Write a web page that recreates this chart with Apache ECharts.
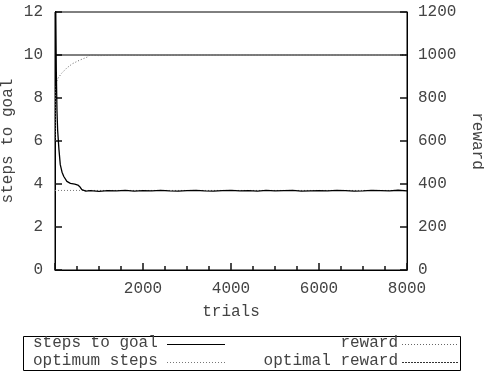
<!DOCTYPE html>
<html><head><meta charset="utf-8">
<script src="https://cdn.jsdelivr.net/npm/echarts@6/dist/echarts.min.js"></script>
<style>html,body{margin:0;padding:0;background:#fff}#c{width:484px;height:372px}</style>
</head><body><div id="c"></div>
<script>
// ---- data ----
var stepTrials = [0, 15, 30, 45, 60, 90, 120, 160, 200, 270, 350, 450, 520, 570, 610, 650, 700, 800, 1000, 1200, 1400, 1600, 1800, 2000, 2200, 2400, 2600, 2800, 3000, 3200, 3400, 3600, 3800, 4000, 4200, 4400, 4600, 4800, 5000, 5200, 5400, 5600, 5800, 6000, 6200, 6400, 6600, 6800, 7000, 7200, 7400, 7600, 7800, 8000];
var stepValues = [16, 12.6, 9.2, 7.4, 6.5, 5.6, 4.9, 4.55, 4.35, 4.12, 4.03, 3.99, 3.95, 3.86, 3.74, 3.66, 3.67, 3.69, 3.66, 3.69, 3.68, 3.7, 3.67, 3.69, 3.68, 3.7, 3.68, 3.67, 3.69, 3.7, 3.68, 3.67, 3.69, 3.7, 3.68, 3.69, 3.67, 3.7, 3.68, 3.69, 3.7, 3.67, 3.68, 3.69, 3.68, 3.7, 3.69, 3.67, 3.68, 3.7, 3.69, 3.68, 3.71, 3.68];
var rewardTrials = [0, 10, 25, 50, 80, 150, 270, 400, 570, 730, 800, 1000, 1500, 2000, 3000, 4000, 5000, 6000, 7000, 8000];
var rewardValues = [600, 800, 860, 885, 895, 915, 940, 960, 977, 990, 1000, 997, 1000, 998, 1000, 1000, 1000, 1000, 1000, 1000];
var optimumSteps = 3.7;
var optimalReward = 1000;
var xTicks = [0, 8000, 2000];
var yLeftTicks = [0, 12, 2];
var yRightTicks = [0, 1200, 200];

function pairs(xs, ys) { return xs.map(function (x, i) { return [x, ys[i]]; }); }

var FONT = 'Liberation Mono';
var TXT = '#444';
function lbl(margin, hideZero) {
  return { fontFamily: FONT, fontSize: 16, color: TXT, margin: margin,
    formatter: function (v) { return (hideZero && v === 0) ? '' : String(v); } };
}
function nameStyle() { return { fontFamily: FONT, fontSize: 16, color: TXT }; }
function tick(len) { return { show: true, inside: true, length: len, lineStyle: { color: '#111', width: 1.5 } }; }

var chart = echarts.init(document.getElementById('c'));
chart.setOption({
  animation: false,
  grid: { left: 55, right: 77, top: 12, bottom: 102, outerBoundsMode: 'none', show: true, borderColor: '#000' },
  xAxis: {
    type: 'value', min: xTicks[0], max: xTicks[1], interval: xTicks[2],
    name: 'trials', nameLocation: 'middle', nameGap: 34, nameMoveOverlap: false, nameTextStyle: nameStyle(),
    axisLine: { show: true, lineStyle: { color: '#000', width: 1 } },
    axisTick: tick(7),
    minorTick: { show: true, splitNumber: 4, length: 4, lineStyle: { color: '#111', width: 1.5 } },
    splitLine: { show: false },
    axisLabel: lbl(11, true)
  },
  yAxis: [
    {
      type: 'value', min: yLeftTicks[0], max: yLeftTicks[1], interval: yLeftTicks[2],
      name: 'steps to goal', nameLocation: 'middle', nameGap: 39, nameMoveOverlap: false, nameTextStyle: nameStyle(),
      axisLine: { show: true, lineStyle: { color: '#000', width: 1 } },
      axisTick: tick(7),
      splitLine: { show: false },
      axisLabel: lbl(12, false)
    },
    {
      type: 'value', min: yRightTicks[0], max: yRightTicks[1], interval: yRightTicks[2], position: 'right',
      name: 'reward', nameLocation: 'middle', nameGap: 62, nameRotate: -90, nameMoveOverlap: false, nameTextStyle: nameStyle(),
      axisLine: { show: true, lineStyle: { color: '#000', width: 1 } },
      axisTick: tick(7),
      splitLine: { show: false },
      axisLabel: lbl(11, false)
    }
  ],
  series: [
    { name: 'optimum steps', type: 'line', showSymbol: false, yAxisIndex: 0,
      data: [[xTicks[0], optimumSteps], [xTicks[1], optimumSteps]],
      lineStyle: { color: '#777', width: 1, type: [1, 2] } },
    { name: 'optimal reward', type: 'line', showSymbol: false, yAxisIndex: 1,
      data: [[xTicks[0], optimalReward], [xTicks[1], optimalReward]],
      lineStyle: { color: '#000', width: 1, type: 'solid' } },
    { name: 'reward', type: 'line', showSymbol: false, yAxisIndex: 1,
      data: pairs(rewardTrials, rewardValues),
      lineStyle: { color: '#666', width: 1, type: [1, 2] } },
    { name: 'steps to goal', type: 'line', showSymbol: false, yAxisIndex: 0,
      data: pairs(stepTrials, stepValues),
      lineStyle: { color: '#000', width: 1.3 } }
  ],
  graphic: [
    { type: 'rect', shape: { x: 23.5, y: 336.5, width: 437, height: 34 }, style: { fill: 'none', stroke: '#000', lineWidth: 1 } },
    { type: 'text', left: 33, top: 335, style: { text: 'steps to goal', font: '16px "' + FONT + '"', fill: TXT } },
    { type: 'text', left: 33, top: 353, style: { text: 'optimum steps', font: '16px "' + FONT + '"', fill: TXT } },
    { type: 'text', right: 86, top: 335, style: { text: 'reward', font: '16px "' + FONT + '"', fill: TXT } },
    { type: 'text', right: 86, top: 353, style: { text: 'optimal reward', font: '16px "' + FONT + '"', fill: TXT } },
    { type: 'line', shape: { x1: 167, y1: 344.5, x2: 225, y2: 344.5 }, style: { stroke: '#000', lineWidth: 1 } },
    { type: 'line', shape: { x1: 167, y1: 362.5, x2: 225, y2: 362.5 }, style: { stroke: '#777', lineWidth: 1, lineDash: [1, 2] } },
    { type: 'line', shape: { x1: 402, y1: 344.5, x2: 458, y2: 344.5 }, style: { stroke: '#666', lineWidth: 1, lineDash: [1, 2] } },
    { type: 'line', shape: { x1: 402, y1: 362.5, x2: 458, y2: 362.5 }, style: { stroke: '#333', lineWidth: 1, lineDash: [2, 1] } }
  ]
});
</script></body></html>
